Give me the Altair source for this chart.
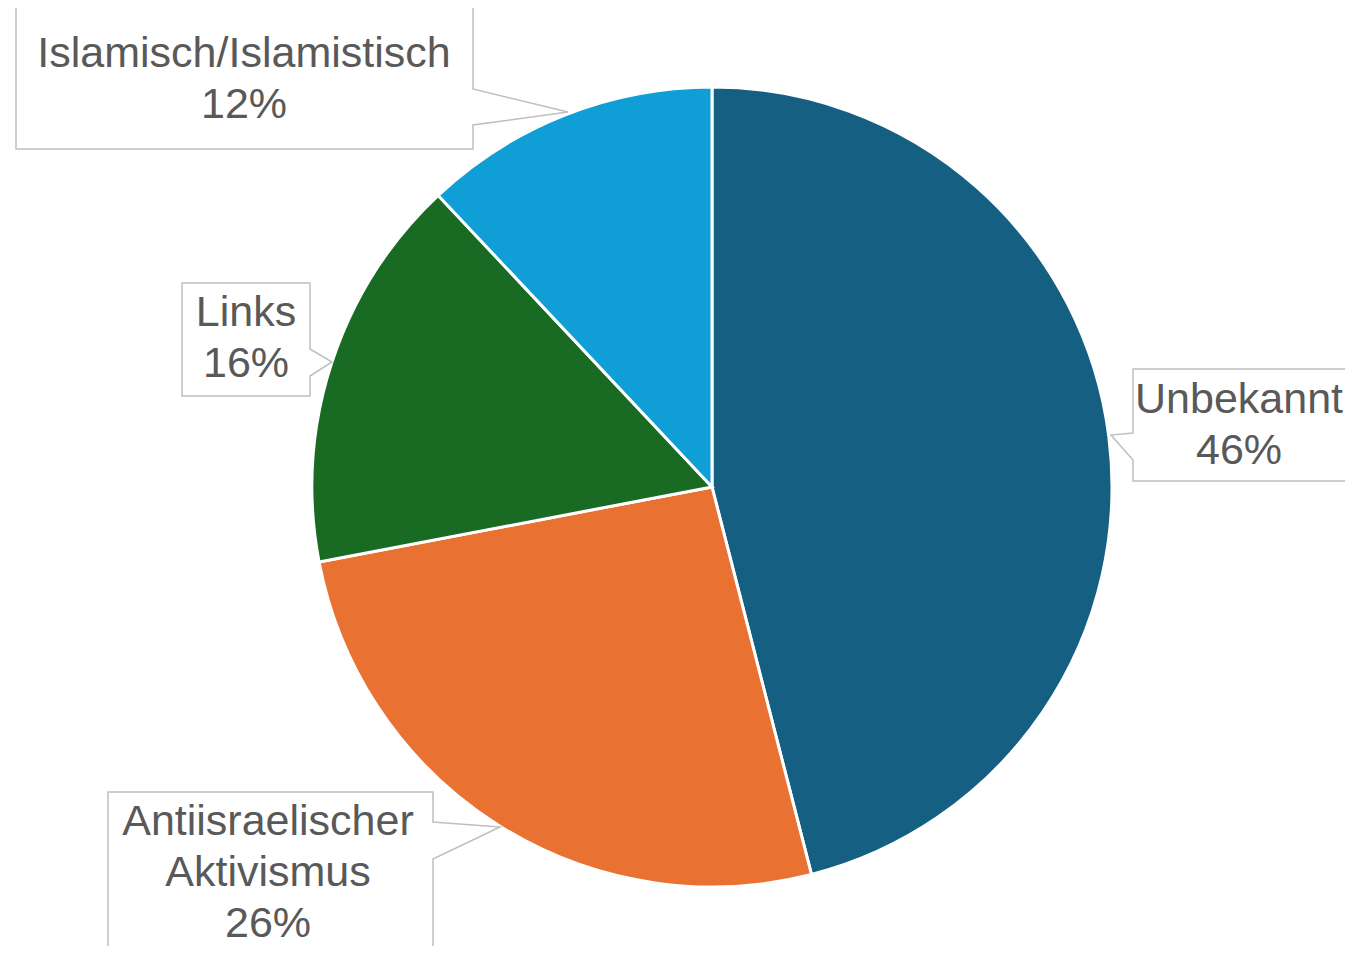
import altair as alt
import pandas as pd

# ---- data ----
categories = ["Unbekannt", "Antiisraelischer Aktivismus", "Links", "Islamisch/Islamistisch"]
shares = [46, 26, 16, 12]
label_names = ["Unbekannt", "Antiisraelischer\nAktivismus", "Links", "Islamisch/Islamistisch"]
colors = ["#156082", "#E97132", "#196B24", "#0F9ED5"]

# ---- layout (pixels, chart coordinates) ----
W, H = 1337, 938
CX, CY, R = 704, 479, 400
callout_layout = [
    # box (x0, y0, x1, y1), pointer side, pointer base (y1, y2), tip (x, y), text anchor (x, first baseline)
    dict(box=(1125, 361, 1362, 473), side="left", p=(425, 452), tip=(1103, 427), text=(1231, 405)),
    dict(box=(100, 784, 425, 970), side="right", p=(814, 851), tip=(492, 819), text=(260, 827)),
    dict(box=(174, 275, 302, 388), side="right", p=(341, 368), tip=(324, 354), text=(238, 318)),
    dict(box=(8, -1, 465, 141), side="right", p=(81, 117), tip=(560, 104), text=(236, 59)),
]

pie_df = pd.DataFrame({"cat": categories, "share": shares, "idx": list(range(len(categories)))})

pie = alt.Chart(pie_df).mark_arc(
    outerRadius=R, stroke="white", strokeWidth=3
).encode(
    theta=alt.Theta("share:Q", stack=True),
    color=alt.Color("cat:N", scale=alt.Scale(domain=categories, range=colors), legend=None),
    order=alt.Order("idx:Q", sort="ascending"),
    x=alt.value(CX),
    y=alt.value(CY),
)

features = []
for lay in callout_layout:
    x0, y0, x1, y1 = lay["box"]
    p1, p2 = lay["p"]
    tx, ty = lay["tip"]
    if lay["side"] == "right":
        ring = [[x0, y0], [x1, y0], [x1, p1], [tx, ty], [x1, p2], [x1, y1], [x0, y1], [x0, y0]]
    else:
        ring = [[x0, y0], [x1, y0], [x1, y1], [x0, y1], [x0, p2], [tx, ty], [x0, p1], [x0, y0]]
    features.append({"type": "Feature", "properties": {},
                     "geometry": {"type": "Polygon", "coordinates": [ring]}})

proj = dict(type="identity", scale=1, translate=[0, 0])

boxes = alt.Chart(alt.Data(values=features)).mark_geoshape(
    fill="white", stroke="#BFBFBF", strokeWidth=1.5
).project(**proj)

text_df = pd.DataFrame({
    "label": [f"{n}\n{s}%" for n, s in zip(label_names, shares)],
    "lx": [lay["text"][0] for lay in callout_layout],
    "ly": [lay["text"][1] for lay in callout_layout],
})

texts = alt.Chart(text_df).mark_text(
    font="Liberation Sans", fontSize=43, color="#595959", align="center",
    baseline="alphabetic", lineBreak="\n", lineHeight=51
).encode(
    longitude="lx:Q", latitude="ly:Q", text="label:N"
).project(**proj)

chart = alt.layer(pie, boxes, texts).properties(
    width=W, height=H, autosize=alt.AutoSizeParams(type="none"), padding=0
).configure_view(stroke=None)

chart.save("out.html", embed_options={"renderer": "svg", "actions": False})
